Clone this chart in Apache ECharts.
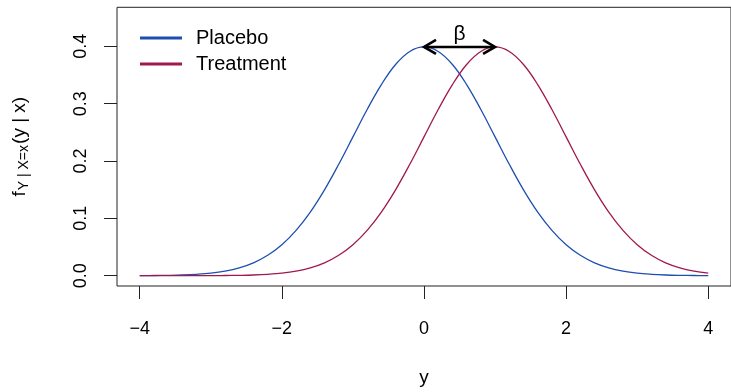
<!DOCTYPE html>
<html>
<head>
<meta charset="utf-8">
<script src="https://cdn.jsdelivr.net/npm/echarts@6/dist/echarts.min.js"></script>
<style>
  html, body { margin: 0; padding: 0; background: #fff; }
  #chart { width: 731px; height: 392px; }
</style>
</head>
<body>
<div id="chart"></div>
<script>
// Grid of y values where both densities are listed
const yGrid = [
  -4.0, -3.8, -3.6, -3.4, -3.2, -3.0, -2.8, -2.6, -2.4, -2.2,
  -2.0, -1.8, -1.6, -1.4, -1.2, -1.0, -0.8, -0.6, -0.4, -0.2,
   0.0,  0.2,  0.4,  0.6,  0.8,  1.0,  1.2,  1.4,  1.6,  1.8,
   2.0,  2.2,  2.4,  2.6,  2.8,  3.0,  3.2,  3.4,  3.6,  3.8, 4.0
];

// Density under placebo
const placebo = [
  0.0001, 0.0003, 0.0006, 0.0012, 0.0024, 0.0044, 0.0079, 0.0136, 0.0224, 0.0355,
  0.0540, 0.0790, 0.1109, 0.1497, 0.1942, 0.2420, 0.2897, 0.3332, 0.3683, 0.3910,
  0.3989, 0.3910, 0.3683, 0.3332, 0.2897, 0.2420, 0.1942, 0.1497, 0.1109, 0.0790,
  0.0540, 0.0355, 0.0224, 0.0136, 0.0079, 0.0044, 0.0024, 0.0012, 0.0006, 0.0003, 0.0001
];

// Density under treatment
const treatment = [
  0.0000, 0.0000, 0.0000, 0.0000, 0.0001, 0.0001, 0.0003, 0.0006, 0.0012, 0.0024,
  0.0044, 0.0079, 0.0136, 0.0224, 0.0355, 0.0540, 0.0790, 0.1109, 0.1497, 0.1942,
  0.2420, 0.2897, 0.3332, 0.3683, 0.3910, 0.3989, 0.3910, 0.3683, 0.3332, 0.2897,
  0.2420, 0.1942, 0.1497, 0.1109, 0.0790, 0.0540, 0.0355, 0.0224, 0.0136, 0.0079, 0.0044
];

// Tick positions
const xTicks = [-4, -2, 0, 2, 4];
const yTicks = [0, 0.1, 0.2, 0.3, 0.4];

// Shift arrow between the two modes: [from, to] and the height it sits at
const shiftFrom = 0;
const shiftTo = 1;
const shiftHeight = 0.3989;

const FONT = '"Liberation Sans", Arial, Helvetica, sans-serif';
const BLUE = '#1d4fb0';
const RED = '#a0184f';

const pairs = (ys) => yGrid.map((x, i) => [x, ys[i]]);

const chart = echarts.init(document.getElementById('chart'), null, { renderer: 'canvas' });

chart.setOption({
  animation: false,
  backgroundColor: '#fff',
  textStyle: { fontFamily: FONT },
  grid: {
    left: 117, right: -4, top: 7.3, bottom: 103.7,
    show: true, borderColor: '#222', borderWidth: 1, backgroundColor: 'transparent'
  },
  legend: {
    orient: 'vertical',
    left: 135, top: 23,
    itemWidth: 42, itemHeight: 2.8, itemGap: 6,
    icon: 'rect',
    textStyle: { fontFamily: FONT, fontSize: 20, color: '#000', lineHeight: 20, padding: [0, 0, 0, 9] },
    data: ['Placebo', 'Treatment']
  },
  xAxis: {
    type: 'value',
    min: -4.32, max: 4.32,
    name: 'y',
    nameLocation: 'middle',
    nameGap: 82,
    nameTextStyle: { fontFamily: FONT, fontSize: 19, color: '#000' },
    axisLine: { show: false, onZero: false },
    splitLine: { show: false },
    axisTick: { show: true, inside: false, length: 13, customValues: xTicks, lineStyle: { color: '#222', width: 1 } },
    axisLabel: {
      show: true, customValues: xTicks, margin: 34,
      fontFamily: FONT, fontSize: 18, color: '#000',
      formatter: (v) => (v < 0 ? '\u2212' + Math.abs(v) : String(v))
    }
  },
  yAxis: {
    type: 'value',
    min: -0.018, max: 0.468,
    name: '{f|f}{s|Y | X=x}{f|(y | x)}',
    nameLocation: 'middle',
    nameRotate: 90,
    nameGap: 86,
    nameTextStyle: {
      color: '#000',
      rich: {
        f: { fontFamily: FONT, fontSize: 19, color: '#000' },
        s: { fontFamily: FONT, fontSize: 14, color: '#000', padding: [9, 1, 0, 1] }
      }
    },
    axisLine: { show: false, onZero: false },
    splitLine: { show: false },
    axisTick: { show: true, inside: false, length: 13, customValues: yTicks, lineStyle: { color: '#222', width: 1 } },
    axisLabel: {
      show: true, customValues: yTicks, rotate: 90, margin: 27,
      fontFamily: FONT, fontSize: 18, color: '#000',
      formatter: (v) => v.toFixed(1)
    }
  },
  series: [
    {
      name: 'Placebo', type: 'line', data: pairs(placebo),
      smooth: 0.4, symbol: 'none',
      lineStyle: { color: BLUE, width: 1.3 }, itemStyle: { color: BLUE }
    },
    {
      name: 'Treatment', type: 'line', data: pairs(treatment),
      smooth: 0.4, symbol: 'none',
      lineStyle: { color: RED, width: 1.3 }, itemStyle: { color: RED }
    },
    {
      name: 'shift', type: 'custom',
      data: [[shiftFrom, shiftHeight, shiftTo, shiftHeight]],
      encode: { x: [0, 2], y: [1, 3] },
      z: 5,
      renderItem: (params, api) => {
        const a = api.coord([api.value(0), api.value(1)]);
        const b = api.coord([api.value(2), api.value(3)]);
        const stroke = { stroke: '#000', lineWidth: 2.6, fill: null, lineCap: 'butt', lineJoin: 'miter' };
        const hl = 12, hw = 7;
        return {
          type: 'group',
          children: [
            { type: 'line', shape: { x1: a[0], y1: a[1], x2: b[0], y2: b[1] }, style: stroke },
            { type: 'polyline', shape: { points: [[a[0] + hl, a[1] - hw], [a[0], a[1]], [a[0] + hl, a[1] + hw]] }, style: stroke },
            { type: 'polyline', shape: { points: [[b[0] - hl, b[1] - hw], [b[0], b[1]], [b[0] - hl, b[1] + hw]] }, style: stroke },
            {
              type: 'text',
              x: (a[0] + b[0]) / 2, y: a[1] - 2,
              style: { text: '\u03b2', font: '21px ' + FONT, fill: '#000', align: 'center', verticalAlign: 'bottom' }
            }
          ]
        };
      }
    }
  ]
});
</script>
</body>
</html>
